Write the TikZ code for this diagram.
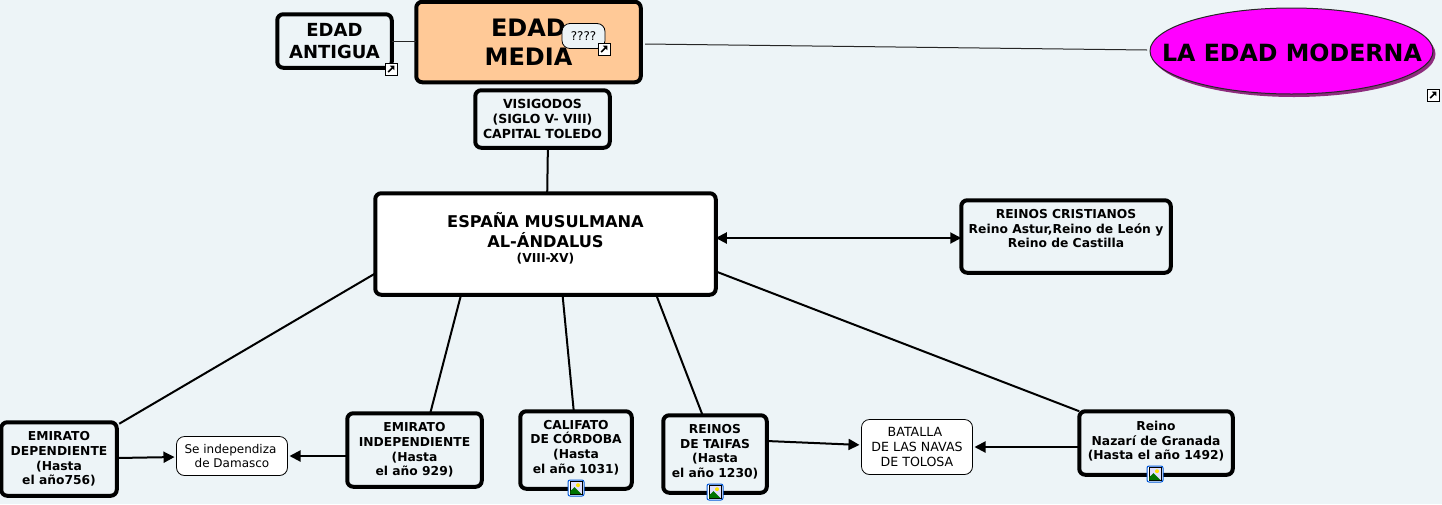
\documentclass[tikz,border=0pt]{standalone}
\usepackage{fontspec}
\setmainfont{DejaVu Sans}
\usetikzlibrary{arrows.meta,calc,shapes.geometric,shadows}
\definecolor{bgc}{HTML}{EDF4F7}
\definecolor{peach}{HTML}{FFC997}
\definecolor{magen}{HTML}{FF00FF}
\definecolor{shade}{HTML}{8E2C7E}
\newcommand{\fs}[2]{\fontsize{#1}{#2}\selectfont}
\tikzset{
 x=1pt,y=-1pt,
 base/.style={rounded corners=6pt,align=center,inner sep=0pt,outer sep=0pt,text=black},
 thick box/.style={base,draw=black,line width=4pt,fill=bgc,font=\bfseries\fs{12.3}{14.7}},
 thin box/.style={base,draw=black,line width=.8pt,fill=white,rounded corners=8pt,font=\fs{12}{14.6}},
 link/.style={draw=black,line width=2pt},
 hair/.style={draw=black!85!white,line width=1pt},
 arrow/.style={link,-{Triangle[length=11pt,width=11pt]},shorten >=2pt},
 shortcut/.pic={
  \draw[black,fill=white,line width=.9pt] (-6,-6) rectangle (6,6);
  \draw[black,line width=1.7pt] (-2.8,3) -- (2,-1.8);
  \fill[black] (-1.2,-3.3) -- (3.3,-3.3) -- (3.3,1.2) -- cycle;
 },
 photo/.pic={
  \draw[draw=blue!60!cyan!85!black,fill=white,line width=1pt,rounded corners=2pt] (-8,-8) rectangle (8,8);
  \draw[black,fill=blue!12!white,line width=.8pt] (-6,-6.5) rectangle (6,6.5);
  \fill[yellow!85!orange] (2,-2.8) circle (2);
  \fill[green!45!black] (-5.6,6.1) -- (-5.6,3) -- (-1.5,-.8) -- (5.6,6.1) -- cycle;
 },
}
\begin{document}
\begin{tikzpicture}
\useasboundingbox (0,0) rectangle (1442,504);
\fill[bgc] (0,0) rectangle (1442,504);

% main boxes
\node[thick box,minimum width=114.5pt,minimum height=53.5pt,font=\bfseries\fs{18}{21.5}] (antigua) at (334.5,41) {EDAD\\ANTIGUA};
\node[thick box,fill=peach,minimum width=224.5pt,minimum height=80.5pt,font=\bfseries\fs{24}{29.5}] (media) at (528.5,42) {EDAD\\MEDIA};
\node[thick box,minimum width=134.5pt,minimum height=57.5pt,font=\bfseries\fs{12.5}{14.7}] (visi) at (542.5,119) {VISIGODOS\\(SIGLO V- VIII)\\CAPITAL TOLEDO};
\node[thick box,fill=white,minimum width=340.5pt,minimum height=101.5pt,font=\bfseries\fs{16.2}{20}] (esp) at (545.5,244) {ESPAÑA MUSULMANA\\AL-ÁNDALUS\\[-5pt]{\fs{12.3}{14.7}(VIII-XV)}\\[-6.5pt]};
\node[thick box,minimum width=209.5pt,minimum height=72.5pt] (cris) at (1066,236.5) {REINOS CRISTIANOS\\Reino Astur,Reino de León y\\Reino de Castilla\\[1.3pt]};
\node[thick box,minimum width=115.5pt,minimum height=73.5pt] (dep) at (59,459) {EMIRATO\\DEPENDIENTE\\(Hasta\hspace*{4pt}\\el año756)};
\node[thin box,minimum width=111pt,minimum height=39pt] (se) at (232,456) {Se independiza\hspace*{3pt}\\de Damasco};
\node[thick box,minimum width=134.5pt,minimum height=73.5pt] (ind) at (414.5,450) {EMIRATO\\INDEPENDIENTE\\(Hasta\hspace*{6pt}\\el año 929)};
\node[thick box,minimum width=111.5pt,minimum height=77.5pt] (cal) at (576,450) {CALIFATO\\DE CÓRDOBA\\(Hasta\hspace*{6pt}\\el año 1031)\\[-7.7pt]};
\node[thick box,minimum width=103.5pt,minimum height=77.5pt] (tai) at (715,454) {REINOS\\DE TAIFAS\\(Hasta\hspace*{6pt}\\el año 1230)\\[-8.7pt]};
\node[thin box,minimum width=111pt,minimum height=55pt,font=\fs{12.6}{14.6}] (bat) at (917,447) {BATALLA\hspace*{4pt}\\DE LAS NAVAS\\DE TOLOSA};
\node[thick box,minimum width=153.5pt,minimum height=63.5pt] (naz) at (1156,443) {Reino\\Nazarí de Granada\\(Hasta el año 1492)\\[-9.7pt]};
\node[ellipse,draw=black!85!white,line width=1pt,fill=magen,inner sep=0pt,minimum width=283pt,minimum height=86pt,
 general shadow={shadow xshift=2.5pt,shadow yshift=-3pt,fill=shade},
 font=\bfseries\fs{23.7}{29}] (mod) at (1291.5,51) {\makebox[0pt]{\raisebox{-10.6pt}[0pt][0pt]{\hspace*{1pt}LA EDAD MODERNA}}};
\node[base,draw=black,line width=.8pt,fill=bgc,rounded corners=8pt,minimum width=43pt,minimum height=25pt,font=\fs{12}{14}] (q) at (583.5,36) {????};

% connectors
\draw[hair] (antigua.east |- 0,41) -- (media.west |- 0,41);
\coordinate (mediaout) at (645,44);
\coordinate (modin) at (1147,50);
\draw[hair] (mediaout) -- (modin);
\draw[link] ($(visi.south west)!.54!(visi.south east)$) -- ($(esp.north west)!.505!(esp.north east)$);
\draw[link] ($(esp.north west)!.79!(esp.south west)$) -- ($(dep.north west)!.02!(dep.south west)+(118,0)$);
\draw[link] ($(esp.south west)!.252!(esp.south east)$) -- ($(ind.north west)!.617!(ind.north east)$);
\draw[link] ($(esp.south west)!.55!(esp.south east)$) -- ($(cal.north west)!.48!(cal.north east)$);
\draw[link] ($(esp.south west)!.825!(esp.south east)$) -- ($(tai.north west)!.38!(tai.north east)$);
\draw[link] ($(esp.north east)!.77!(esp.south east)$) -- (naz.north west);
\draw[link,{Triangle[length=11pt,width=11pt]}-{Triangle[length=11pt,width=11pt]}] (esp.east |- cris) ++(0,1.5) -- (cris.west |- 0,238);
\draw[arrow] ($(dep.east)+(0,-1)$) -- ($(se.west)+(0,1)$);
\draw[arrow] (ind.west |- se) -- (se.east);
\draw[arrow] ($(tai.east)+(0,-13)$) -- (bat.west |- 0,445);
\draw[arrow] (naz.west |- bat) -- (bat.east);

% icons
\pic at (391,69) {shortcut};
\pic at (604,49) {shortcut};
\pic at (1433,95) {shortcut};
\pic at (576,488) {photo};
\pic at (715,492) {photo};
\pic at (1155,474) {photo};
\end{tikzpicture}
\end{document}
